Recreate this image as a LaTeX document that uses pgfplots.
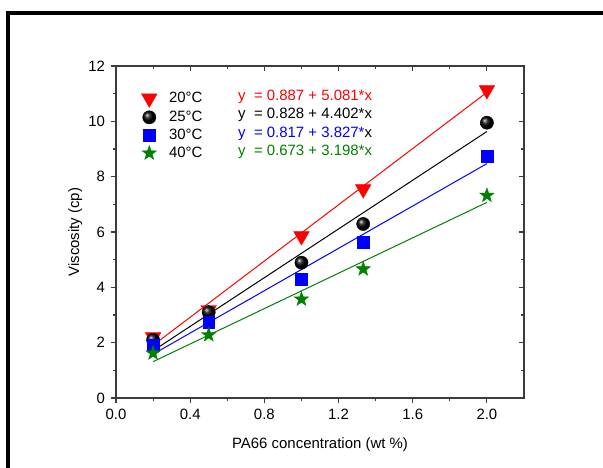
\documentclass[border=0pt]{standalone}
\usepackage{fontspec}
\setmainfont{Liberation Sans}
\usepackage{pgfplots}
\pgfplotsset{compat=1.18}
\definecolor{ored}{RGB}{255,0,0}
\definecolor{oblue}{RGB}{0,0,255}
\definecolor{ogreen}{RGB}{0,128,0}
\definecolor{axgray}{RGB}{60,60,60}

\pgfdeclareplotmark{fstar}{%
  \pgfpathmoveto{\pgfqpointpolar{90}{\pgfplotmarksize}}%
  \pgfpathlineto{\pgfqpointpolar{126}{0.4\pgfplotmarksize}}%
  \pgfpathlineto{\pgfqpointpolar{162}{\pgfplotmarksize}}%
  \pgfpathlineto{\pgfqpointpolar{198}{0.4\pgfplotmarksize}}%
  \pgfpathlineto{\pgfqpointpolar{234}{\pgfplotmarksize}}%
  \pgfpathlineto{\pgfqpointpolar{270}{0.4\pgfplotmarksize}}%
  \pgfpathlineto{\pgfqpointpolar{306}{\pgfplotmarksize}}%
  \pgfpathlineto{\pgfqpointpolar{342}{0.4\pgfplotmarksize}}%
  \pgfpathlineto{\pgfqpointpolar{18}{\pgfplotmarksize}}%
  \pgfpathlineto{\pgfqpointpolar{54}{0.4\pgfplotmarksize}}%
  \pgfpathclose
  \pgfusepathqfillstroke}

\pgfplotstableread{
x y
0.2 2.20
0.5 3.18
1.0 5.85
1.333 7.55
2.0 11.13
}\tA
\pgfplotstableread{
x y
0.2 2.10
0.5 3.10
1.0 4.89
1.333 6.29
2.0 9.95
}\tB
\pgfplotstableread{
x y
0.2 1.90
0.5 2.75
1.0 4.30
1.333 5.64
2.0 8.75
}\tC
\pgfplotstableread{
x y
0.2 1.62
0.5 2.28
1.0 3.57
1.333 4.66
2.0 7.32
}\tD

\begin{document}
\begin{tikzpicture}[x=1bp,y=1bp]
\useasboundingbox (0,0) rectangle (603,468);
\draw[line width=3.5bp] (8,-5) -- (8,455) -- (610,455);
\pgfplotsset{
  common/.style={
    at={(116bp,70bp)}, anchor=south west, scale only axis,
    width=408bp, height=332bp,
    xmin=0, xmax=2.2, ymin=0, ymax=12,
    xtick={0,0.4,...,2.0}, ytick={0,2,...,12},
    minor x tick num=1, minor y tick num=1,
    axis line style={axgray, line width=1.3bp},
    major tick length=5.5bp, minor tick length=3bp,
    every tick/.style={axgray, line width=1.1bp},
  }
}
\begin{axis}[common,
    xtick pos=left, ytick pos=left, tick align=outside,
    /pgf/number format/assume math mode=true,
    tick label style={font=\fontsize{15}{18}\selectfont},
    xticklabel style={yshift=-2bp, /pgf/number format/.cd, fixed, fixed zerofill, precision=1},
    yticklabel style={xshift=-2bp},
    label style={font=\fontsize{15}{18}\selectfont},
    xlabel={PA66 concentration (wt \%)},
    ylabel={Viscosity (cp)},
    xlabel style={at={(axis description cs:0.5,-0.140)}, anchor=center},
    ylabel style={at={(axis description cs:-0.10,0.5)}, anchor=center},
    legend style={at={(axis description cs:0.062,0.927)}, anchor=north west,
      draw=none, fill=none, font=\fontsize{15}{18}\selectfont,
      row sep=2bp, inner sep=0pt,
      /tikz/every odd column/.append style={column sep=10bp}},
    legend cell align=left,
  ]
\addplot[only marks, ored, mark=triangle*, mark size=9bp, mark options={rotate=180, fill=ored}] table {\tA};
\addlegendentry{20°C}
\addplot[only marks, black, mark=ball, mark size=6.6bp, mark options={ball color=black}] table {\tB};
\addlegendentry{25°C}
\addplot[only marks, oblue, mark=square*, mark size=5.9bp, mark options={fill=oblue}] table {\tC};
\addlegendentry{30°C}
\addplot[only marks, ogreen, mark=fstar, mark size=7.6bp, mark options={fill=ogreen}] table {\tD};
\addlegendentry{40°C}
\addplot[ored, line width=1bp, forget plot] coordinates {(0.2,1.903) (2.0,11.049)};
\addplot[black, line width=1bp, forget plot] coordinates {(0.2,1.708) (2.0,9.632)};
\addplot[oblue, line width=1bp, forget plot] coordinates {(0.2,1.582) (2.0,8.471)};
\addplot[ogreen, line width=1bp, forget plot] coordinates {(0.2,1.313) (2.0,7.069)};
\node[anchor=west, inner sep=0pt, text=ored, font=\fontsize{15}{18}\selectfont] at (axis cs:0.658,10.87) {y \ = 0.887 + 5.081*x};
\node[anchor=west, inner sep=0pt, text=black, font=\fontsize{15}{18}\selectfont] at (axis cs:0.658,10.22) {y \ = 0.828 + 4.402*x};
\node[anchor=west, inner sep=0pt, text=oblue, font=\fontsize{15}{18}\selectfont] at (axis cs:0.658,9.54) {y \ = 0.817 + 3.827*\textcolor{black}{x}};
\node[anchor=west, inner sep=0pt, text=ogreen, font=\fontsize{15}{18}\selectfont] at (axis cs:0.658,8.88) {y \ = 0.673 + 3.198*x};
\end{axis}
\begin{axis}[common,
    xtick pos=right, ytick pos=right, tick align=inside,
    xticklabels={}, yticklabels={},
  ]
\end{axis}
\end{tikzpicture}
\end{document}
